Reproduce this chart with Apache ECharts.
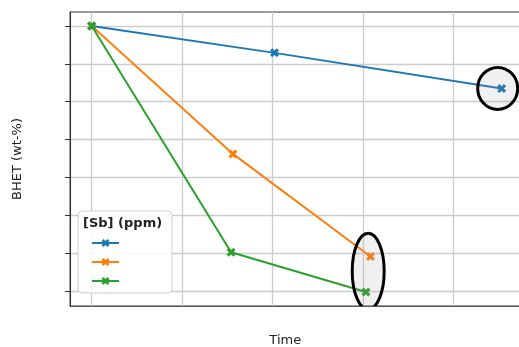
<!DOCTYPE html>
<html>
<head>
<meta charset="utf-8">
<script src="https://cdn.jsdelivr.net/npm/echarts@6/dist/echarts.min.js"></script>
<style>
  html, body { margin: 0; padding: 0; background: #ffffff; }
  #chart { width: 519px; height: 347px; }
</style>
</head>
<body>
<div id="chart"></div>
<script>
// Series: BHET content over time for three antimony levels
const seriesNames = ['low', 'medium', 'high'];
const seriesColors = ['#1f77b4', '#ff7f0e', '#2ca02c'];

const timeLow = [0, 2.02, 4.53];
const bhetLow = [70, 62.9, 53.5];

const timeMid = [0, 1.56, 3.08];
const bhetMid = [70, 36.2, 9.1];

const timeHigh = [0, 1.54, 3.03];
const bhetHigh = [70, 10.2, -0.3];

// Y tick positions (labels are not shown)
const yTickValues = [0, 10, 20, 30, 40, 50, 60, 70];

// Points singled out with a ring: [series index, point index]
const ringGroups = [
  [[0, 2]],
  [[1, 2], [2, 2]]
];

const legendTitle = '[Sb] (ppm)';
const xTitle = 'Time';
const yTitle = 'BHET (wt-%)';

const times = [timeLow, timeMid, timeHigh];
const values = [bhetLow, bhetMid, bhetHigh];

function pairs(xs, ys) {
  return xs.map((x, i) => [x, ys[i]]);
}

// Ring centres in data space, averaged over the points each ring encloses
const ringData = ringGroups.map((group, gi) => {
  let sx = 0, sy = 0;
  group.forEach(([s, p]) => { sx += times[s][p]; sy += values[s][p]; });
  return [sx / group.length, sy / group.length, gi];
});

// Ring shapes in pixels (size and nudge from the centre)
const ringShapes = [
  { rx: 20, ry: 21, dx: -4, dy: 0 },
  { rx: 16, ry: 38, dx: 0, dy: -3 }
];

const xMarker = 'path://M1,0L2,1L3,0L4,1L3,2L4,3L3,4L2,3L1,4L0,3L1,2L0,1Z';
const gridColor = '#cccccc';
const font = '"DejaVu Sans", sans-serif';

const chart = echarts.init(document.getElementById('chart'), null, { renderer: 'canvas' });

const lineSeries = seriesNames.map((name, i) => ({
  name: name,
  type: 'line',
  data: pairs(times[i], values[i]),
  symbol: xMarker,
  symbolSize: 9,
  showAllSymbol: true,
  color: seriesColors[i],
  lineStyle: { width: 2, color: seriesColors[i] },
  itemStyle: { color: seriesColors[i] },
  z: 3 + i,
  animation: false
}));

const ringSeries = {
  type: 'custom',
  name: 'rings',
  z: 10,
  silent: true,
  animation: false,
  data: ringData,
  renderItem: function (params, api) {
    const p = api.coord([api.value(0), api.value(1)]);
    const s = ringShapes[api.value(2)];
    const cs = params.coordSys;
    return {
      type: 'group',
      clipPath: {
        type: 'rect',
        shape: { x: cs.x - 2, y: cs.y - 2, width: cs.width + 4, height: cs.height + 2 }
      },
      children: [{
        type: 'ellipse',
        shape: { cx: p[0] + s.dx, cy: p[1] + s.dy, rx: s.rx, ry: s.ry },
        style: { fill: 'rgba(150,150,150,0.14)', stroke: '#000000', lineWidth: 3 }
      }]
    };
  }
};

chart.setOption({
  backgroundColor: '#ffffff',
  animation: false,
  grid: {
    left: 70, top: 12, width: 452.5, height: 294,
    outerBoundsMode: 'none',
    containLabel: false,
    show: true, borderColor: '#333333', borderWidth: 1, backgroundColor: 'transparent'
  },
  xAxis: {
    type: 'value',
    min: -0.24, max: 4.76, splitNumber: 5,
    axisLine: { show: true, onZero: false, lineStyle: { color: '#555555', width: 1 } },
    axisTick: { show: false },
    axisLabel: { show: false },
    splitLine: { show: true, lineStyle: { color: gridColor, width: 1.3 } },
    name: xTitle,
    nameLocation: 'middle',
    nameGap: 28,
    nameTextStyle: { fontFamily: font, fontSize: 13, color: '#222222', padding: [0, 22, 0, 0] }
  },
  yAxis: {
    type: 'value',
    min: -4, max: 73.7, splitNumber: 8,
    axisLine: { show: true, onZero: false, lineStyle: { color: '#333333', width: 1 } },
    axisTick: { show: true, length: 5, customValues: yTickValues, lineStyle: { color: '#333333', width: 1 } },
    axisLabel: { show: false },
    splitLine: { show: true, lineStyle: { color: gridColor, width: 1.3 } },
    name: yTitle,
    nameLocation: 'middle',
    nameGap: 46,
    nameTextStyle: { fontFamily: font, fontSize: 13, color: '#222222' }
  },
  legend: {
    data: seriesNames,
    orient: 'vertical',
    left: 78, top: 211,
    itemWidth: 27, itemHeight: 10, itemGap: 11,
    padding: [28, 48, 8, 13],
    backgroundColor: 'rgba(255,255,255,0.85)',
    borderColor: '#d0d0d0', borderWidth: 1, borderRadius: 4,
    formatter: function () { return ''; },
    textStyle: { fontSize: 9, lineHeight: 10 },
    selectedMode: false,
    z: 20
  },
  graphic: [{
    type: 'text',
    left: 83, top: 217, z: 100,
    style: { text: legendTitle, font: 'bold 13px "DejaVu Sans", sans-serif', fill: '#222222' }
  }],
  series: lineSeries.concat([ringSeries])
});
</script>
</body>
</html>
